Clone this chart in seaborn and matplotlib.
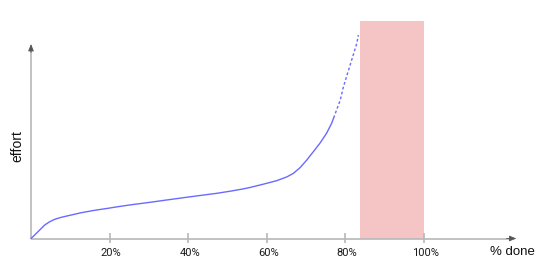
import matplotlib
matplotlib.use("Agg")
import matplotlib.pyplot as plt
import seaborn as sns
import pandas as pd

sns.set_theme(style="white")

# data (x in % done, y in arbitrary effort units)
solid_x = [0, 0.94, 2.21, 3.49, 4.76, 6.03, 7.71, 10.25, 12.8, 16.2, 19.6, 22.1, 26.0, 30.3,
           34.5, 38.8, 43.0, 47.3, 51.0, 54.0, 55.7, 59.1, 62.5, 65.1, 66.7, 68.4, 70.2,
           71.8, 73.5, 75.2, 76.5, 77.0]
solid_y = [0, 3.5, 8.5, 13.5, 16.8, 19.2, 21.2, 23.5, 25.8, 28.2, 30.2, 31.8, 34.0, 36.2,
           38.5, 40.8, 43.0, 45.2, 47.5, 49.6, 51.0, 54.3, 57.8, 61.6, 65.0, 70.6, 78.6,
           86.6, 95.2, 105.2, 115.2, 120.5]
dash_x = [77.0, 78.7, 79.5, 81.6, 82.9, 83.3]
dash_y = [120.5, 138.5, 151.8, 178.5, 195.2, 203.5]
zone_start = 83.7
zone_end = 100
zone_top = 217.8
tick_vals = [20, 40, 60, 80, 100]
tick_labels = ["20%", "40%", "60%", "80%", "100%"]

fig = plt.figure(figsize=(5.5, 2.71), dpi=100)
ax = fig.add_axes([0, 0, 1, 1])
XL = (-7.89, 132.06)
YL = (-32.5, 238.5)

axis_col = "#b8b8b8"
head_col = "#555555"

# highlighted zone
ax.fill_between([zone_start, zone_end], 0, zone_top, color="#f5c5c5", lw=0, zorder=1)

# axes with arrows
ax.plot([0, 122.0], [0, 0], color=axis_col, lw=1.2, zorder=2, solid_capstyle="butt")
ax.plot([0, 0], [0, 190], color=axis_col, lw=1.2, zorder=2, solid_capstyle="butt")
ax.annotate("", xy=(123.5, 0), xytext=(121.0, 0),
            arrowprops=dict(arrowstyle="-|>,head_length=0.35,head_width=0.14", color=head_col, lw=0.6,
                            shrinkA=0, shrinkB=0), zorder=3)
ax.annotate("", xy=(0, 194.5), xytext=(0, 186),
            arrowprops=dict(arrowstyle="-|>,head_length=0.35,head_width=0.14", color=head_col, lw=0.6,
                            shrinkA=0, shrinkB=0), zorder=3)

# ticks
ax.vlines(tick_vals, -4.5, 5.5, color=axis_col, lw=1.2, zorder=2)
for v, lab in zip(tick_vals, tick_labels):
    ax.text(v + 0.4, -14.5, lab, ha="center", va="center", fontsize=8, family="Roboto", color="#1a1a1a")

ax.text(122.4, -13.5, "% done", ha="center", va="center", fontsize=9.5,
        family="Liberation Sans", color="#111111")
ax.text(-3.5, 92.0, "effort", ha="center", va="center", rotation=90, fontsize=10,
        family="Liberation Sans", color="#111111")

# curve
df_solid = pd.DataFrame({"x": solid_x, "y": solid_y})
df_dash = pd.DataFrame({"x": dash_x, "y": dash_y})
sns.lineplot(data=df_solid, x="x", y="y", ax=ax, color="#6a6aff", lw=1.0, sort=False, zorder=4)
sns.lineplot(data=df_dash, x="x", y="y", ax=ax, color="#6a6aff", lw=1.0, sort=False, zorder=4,
             linestyle=(0, (2, 1.6)))
ax.set_xlim(*XL)
ax.set_ylim(*YL)
ax.axis("off")

fig.savefig("out.png", dpi=100)
